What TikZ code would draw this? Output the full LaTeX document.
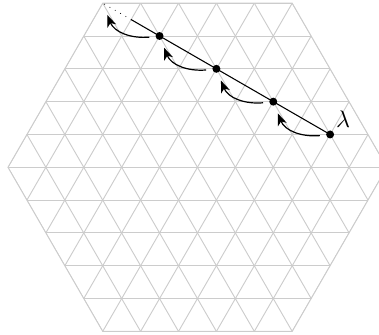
\documentclass[tikz,border=0pt]{standalone}
\usetikzlibrary{arrows.meta,calc}
\begin{document}
\begin{tikzpicture}[
  gridline/.style={draw=black!20, line width=0.7pt},
  site/.style={circle, fill=black, inner sep=0pt, minimum size=0.21cm},
  hop/.style={-{Stealth[length=9pt,width=7pt,inset=2.5pt]}, line width=0.9pt},
  chain/.style={line width=0.8pt},
]
\def\h{0.866025}
\clip (-5.21,-4.425) rectangle (4.79,4.414);
\begin{scope}
  \clip (-5,0) -- (-2.5,5*\h) -- (2.5,5*\h) -- (5,0) -- (2.5,-5*\h) -- (-2.5,-5*\h) -- cycle;
  \foreach \k in {-5,...,5} \draw[gridline] (-6,\k*\h) -- (6,\k*\h);
  \foreach \n in {-10,...,10} {
    \draw[gridline] (\n-3,-6*\h) -- (\n+3,6*\h);
    \draw[gridline] (\n+3,-6*\h) -- (\n-3,6*\h);
  }
\end{scope}
\draw[gridline] (-5,0) -- (-2.5,5*\h) -- (2.5,5*\h) -- (5,0) -- (2.5,-5*\h) -- (-2.5,-5*\h) -- cycle;

\coordinate (c0) at (-2.5,5*\h);
\coordinate (p1) at (-1,4*\h);
\coordinate (p4) at (3.5,\h);
\coordinate (m) at ($(p1)!0.5!(c0)$);
\draw[chain] (p4) -- (m);
\draw[chain, line cap=round, dash pattern=on 0pt off 4.6pt] (m) -- (c0);

\node[site] (d4) at (3.5,\h) {};
\node[site] (d3) at (2,2*\h) {};
\node[site] (d2) at (0.5,3*\h) {};
\node[site] (d1) at (-1,4*\h) {};
\node[inner sep=0pt] (lam) at ($(d4)+(0.34,0.41)$) {\scalebox{1.8}{$\lambda$}};

\draw[hop] ([shift={(-0.27,-0.03)}]d4.center) to[out=185,in=-68] ([shift={(0.12,-0.31)}]d3.center);
\draw[hop] ([shift={(-0.27,-0.03)}]d3.center) to[out=185,in=-68] ([shift={(0.12,-0.31)}]d2.center);
\draw[hop] ([shift={(-0.27,-0.03)}]d2.center) to[out=185,in=-68] ([shift={(0.12,-0.31)}]d1.center);
\draw[hop] ([shift={(-0.27,-0.03)}]d1.center) to[out=185,in=-68] ([shift={(0.12,-0.31)}]c0);
\end{tikzpicture}
\end{document}
